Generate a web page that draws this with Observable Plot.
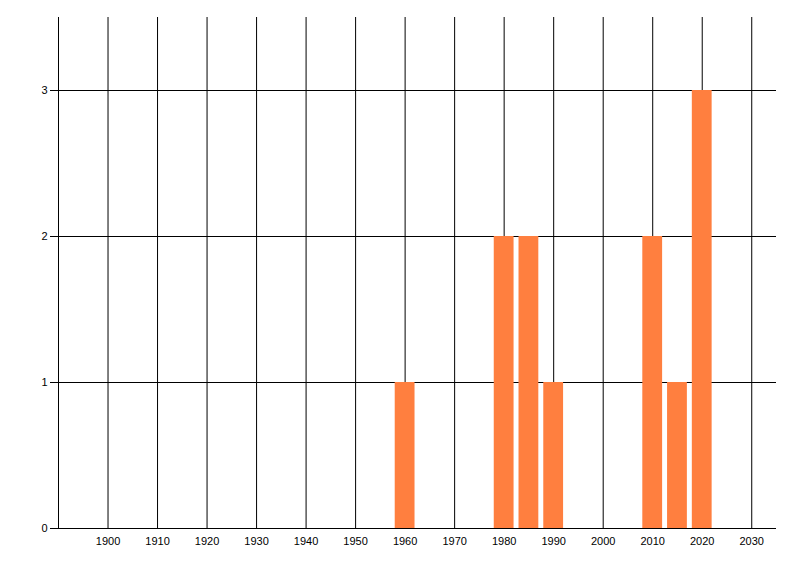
<!DOCTYPE html>
<html>
<head>
<meta charset="utf-8">
<script src="https://cdn.jsdelivr.net/npm/d3@7"></script>
<script src="https://cdn.jsdelivr.net/npm/@observablehq/plot@0.6"></script>
<style>
  html, body { margin: 0; padding: 0; background: #fff; }
  #chart svg { display: block; }
</style>
</head>
<body>
<div id="chart"></div>
<script>
const years = [1960, 1980, 1985, 1990, 2010, 2015, 2020];
const counts = [1, 2, 2, 1, 2, 1, 3];
const xTicks = [1900, 1910, 1920, 1930, 1940, 1950, 1960, 1970, 1980, 1990, 2000, 2010, 2020, 2030];
const yTicks = [0, 1, 2, 3];

const data = years.map((y, i) => ({year: y, count: counts[i]}));
const halfWidth = 2;

const chart = Plot.plot({
  width: 800,
  height: 576,
  marginLeft: 58,
  marginRight: 24,
  marginTop: 17,
  marginBottom: 48,
  style: {fontFamily: "'Liberation Sans', sans-serif", fontSize: "11px", color: "#000", background: "#fff"},
  x: {domain: [1890, 2035], label: null},
  y: {domain: [0, 3.5], label: null},
  marks: [
    Plot.gridX(xTicks, {stroke: "#000", strokeOpacity: 1, strokeWidth: 1}),
    Plot.gridY(yTicks, {stroke: "#000", strokeOpacity: 1, strokeWidth: 1}),
    Plot.ruleX([1890], {stroke: "#000"}),
    Plot.ruleY([0], {stroke: "#000"}),
    Plot.axisX(xTicks, {tickSize: 0, tickPadding: 9, tickFormat: d => String(d), fill: "#000", label: null}),
    Plot.axisY(yTicks, {tickSize: 8, tickPadding: 3, tickFormat: d => String(d), stroke: "#000", strokeOpacity: 1, fill: "#000", label: null}),
    Plot.rectY(data, {x1: d => d.year - halfWidth, x2: d => d.year + halfWidth, y: "count", fill: "#ff7f3f"})
  ]
});
document.getElementById("chart").appendChild(chart);
</script>
</body>
</html>
